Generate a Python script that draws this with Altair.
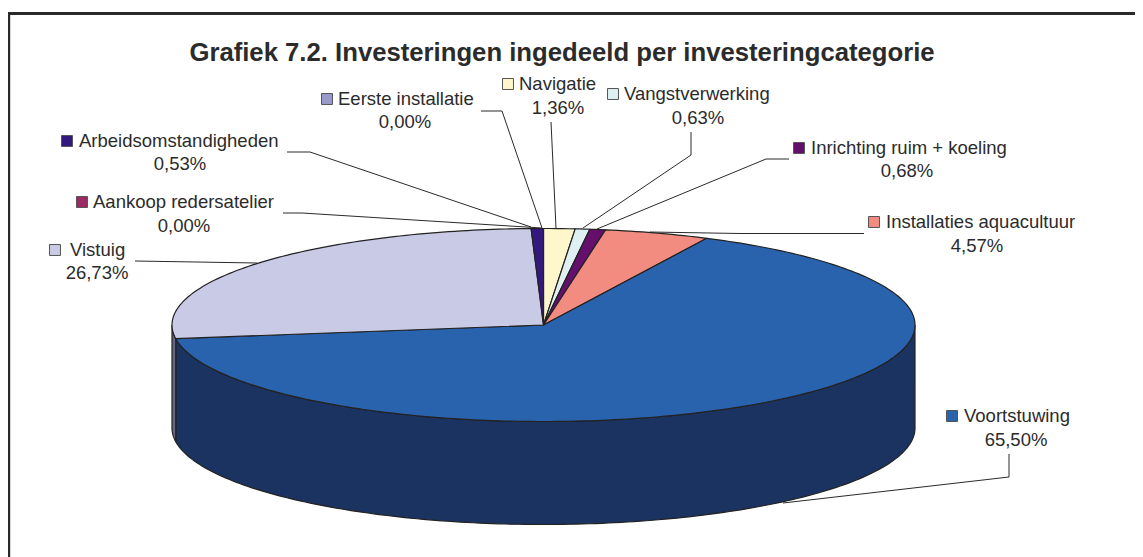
import math
import altair as alt
import pandas as pd

# ---- data ----
TITLE = "Grafiek 7.2. Investeringen ingedeeld per investeringcategorie"
CATEGORIES = ["Navigatie", "Vangstverwerking", "Inrichting ruim + koeling",
              "Installaties aquacultuur", "Voortstuwing", "Vistuig",
              "Aankoop redersatelier", "Arbeidsomstandigheden", "Eerste installatie"]
SHARES = [1.36, 0.63, 0.68, 4.57, 65.50, 26.73, 0.00, 0.53, 0.00]

# ---- styles ----
TOP_COLORS = ["#fff7cc", "#dff0f2", "#640f6b", "#f28b80", "#2a63ad", "#c9cae6",
              "#9c2a63", "#33197f", "#9999cc"]
SIDE_COLORS = ["#807a66", "#707879", "#320836", "#794640", "#1b3360", "#666680",
               "#4e1532", "#1a0d40", "#4d4d66"]
INK = "#2b2b2b"
FONT = "Liberation Sans"
FS = 18.5

# ---- layout (image pixels) ----
W, H = 1127, 549
CX, CY, RX, RY, DEPTH = 543.5, 325.0, 371.5, 96.5, 103.0
# category: swatch x,y ; name left x ; percent centre x,y
LABELS = {
    "Navigatie": (508, 84, 519, 558, 108),
    "Vangstverwerking": (613, 94, 624, 698, 118),
    "Inrichting ruim + koeling": (799, 148, 811, 907, 171),
    "Installaties aquacultuur": (874, 222, 886, 977, 246),
    "Voortstuwing": (952, 416, 964, 1016, 440),
    "Vistuig": (55, 250, 70, 97, 273),
    "Aankoop redersatelier": (82, 202, 93, 184, 226),
    "Arbeidsomstandigheden": (67, 141, 79, 180, 164),
    "Eerste installatie": (327, 99, 338, 405, 122),
}
LEADERS = {
    "Navigatie": [(551, 122), (556, 228)],
    "Vangstverwerking": [(691, 132), (691, 155), (583, 228)],
    "Inrichting ruim + koeling": [(789, 159), (766, 159), (597, 229)],
    "Installaties aquacultuur": [(864, 233.5), (740, 233.5), (650, 232)],
    "Voortstuwing": [(1009, 454), (1009, 477), (783, 503)],
    "Vistuig": [(135, 261), (257, 263)],
    "Aankoop redersatelier": [(283, 213), (302, 213), (542, 228)],
    "Arbeidsomstandigheden": [(287, 152), (310, 152), (531, 227)],
    "Eerste installatie": [(481, 111), (502, 111), (542, 228)],
}
FRAME = [(8.7, 557), (8.7, 13.5), (1143, 13.5)]


def rim(deg, dy=0.0):
    a = math.radians(deg)
    return [CX + RX * math.sin(a), CY - RY * math.cos(a) + dy]


def arc(a0, a1, dy=0.0):
    n = max(2, int(abs(a1 - a0) / 1.0) + 2)
    return [rim(a0 + (a1 - a0) * i / (n - 1), dy) for i in range(n)]


def poly(points, cat):
    ring = points + [points[0]]
    return {"type": "Feature", "properties": {"cat": cat},
            "geometry": {"type": "Polygon", "coordinates": [ring]}}


total = sum(SHARES)
tops, sides = [], []
start = 0.0
for cat, share in zip(CATEGORIES, SHARES):
    end = start + share / total * 360
    if share > 0:
        tops.append(poly([[CX, CY]] + arc(start, end), cat))
        a0, a1 = max(start, 90.0), min(end, 270.0)
        if a1 > a0:
            sides.append(poly(arc(a0, a1) + arc(a1, a0, DEPTH), cat))
    start = end

colour_top = alt.Color("properties.cat:N", legend=None,
                       scale=alt.Scale(domain=CATEGORIES, range=TOP_COLORS))
colour_side = alt.Color("properties.cat:N", legend=None,
                        scale=alt.Scale(domain=CATEGORIES, range=SIDE_COLORS))


def geo(features, colour):
    return (alt.Chart(alt.Data(values=features))
            .mark_geoshape(stroke="#222222", strokeWidth=1.2)
            .encode(color=colour)
            .project(type="identity", scale=1, translate=[-8, -8]))


X = alt.Scale(domain=[8, 8 + W], range=[0, W])
Y = alt.Scale(domain=[8, 8 + H], range=[0, H])
xq = alt.X("x:Q", scale=X, axis=None)
yq = alt.Y("y:Q", scale=Y, axis=None)

rows = [{"cat": c, "pct": f"{s:.2f}%".replace(".", ","),
         "sx": LABELS[c][0], "sy": LABELS[c][1], "nx": LABELS[c][2],
         "px": LABELS[c][3], "py": LABELS[c][4]}
        for c, s in zip(CATEGORIES, SHARES)]
labels = pd.DataFrame(rows)

leader_rows = [{"cat": c, "i": i, "x": p[0], "y": p[1]}
               for c, pts in LEADERS.items() for i, p in enumerate(pts)]
frame_rows = [{"i": i, "x": p[0], "y": p[1]} for i, p in enumerate(FRAME)]

frame = alt.Chart(pd.DataFrame(frame_rows)).mark_line(
    color="#2a2a2a", strokeWidth=3, clip=True).encode(x=xq, y=yq, order="i:O")
leaders = alt.Chart(pd.DataFrame(leader_rows)).mark_line(
    color="#2a2a2a", strokeWidth=1).encode(x=xq, y=yq, detail="cat:N", order="i:O")
swatches = alt.Chart(labels).mark_square(size=120, opacity=1, stroke="#555555", strokeWidth=1).encode(
    x=alt.X("sx:Q", scale=X, axis=None), y=alt.Y("sy:Q", scale=Y, axis=None),
    fill=alt.Fill("cat:N", legend=None, scale=alt.Scale(domain=CATEGORIES, range=TOP_COLORS)))
names = alt.Chart(labels).mark_text(align="left", baseline="middle", font=FONT, fontSize=FS, color=INK).encode(
    x=alt.X("nx:Q", scale=X, axis=None), y=alt.Y("sy:Q", scale=Y, axis=None), text="cat:N")
pcts = alt.Chart(labels).mark_text(align="center", baseline="middle", font=FONT, fontSize=FS, color=INK).encode(
    x=alt.X("px:Q", scale=X, axis=None), y=alt.Y("py:Q", scale=Y, axis=None), text="pct:N")

chart = alt.layer(frame, geo(sides, colour_side), geo(tops, colour_top),
                  leaders, swatches, names, pcts).resolve_scale(color="independent").properties(
    width=W, height=H, padding=0, autosize=alt.AutoSizeParams(type="none"),
    background="white",
    title=alt.TitleParams(TITLE, font=FONT, fontSize=25.7, fontWeight="bold", color=INK,
                          anchor="middle", frame="group", baseline="alphabetic",
                          offset=0, dx=-9.5, dy=79),
).configure_view(stroke=None)

chart.save("out.html", embed_options={"renderer": "svg", "actions": False})
